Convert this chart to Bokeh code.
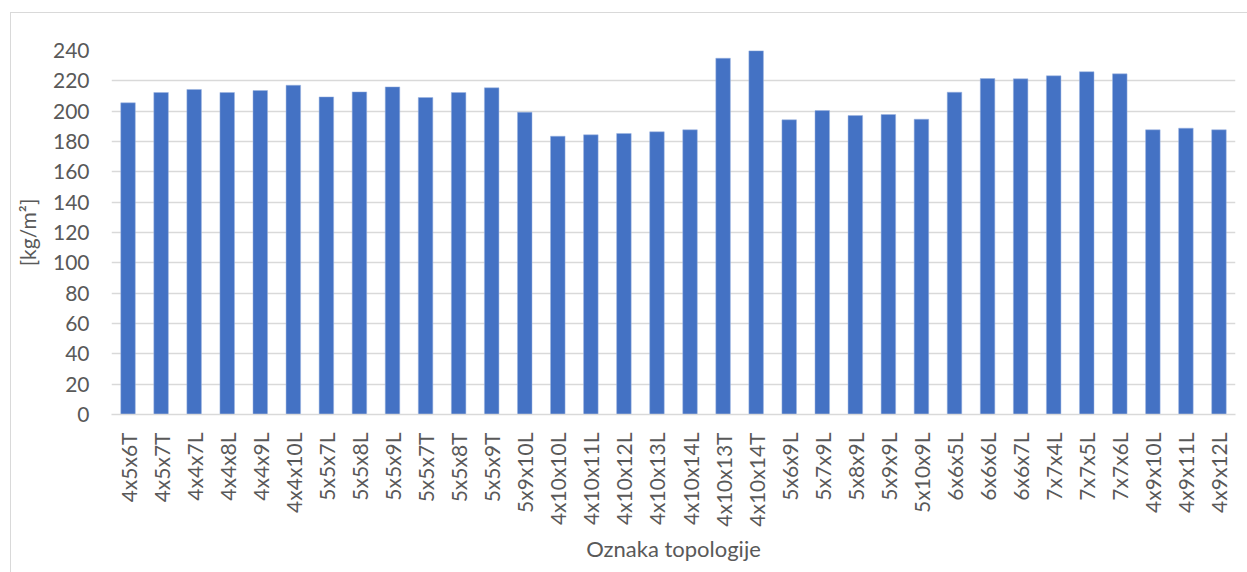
import math
from bokeh.plotting import figure
from bokeh.models import Range1d, FactorRange, SingleIntervalTicker
from bokeh.embed import file_html
from bokeh.resources import INLINE

categories = ["4x5x6T", "4x5x7T", "4x4x7L", "4x4x8L", "4x4x9L", "4x4x10L", "5x5x7L", "5x5x8L",
              "5x5x9L", "5x5x7T", "5x5x8T", "5x5x9T", "5x9x10L", "4x10x10L", "4x10x11L", "4x10x12L",
              "4x10x13L", "4x10x14L", "4x10x13T", "4x10x14T", "5x6x9L", "5x7x9L", "5x8x9L", "5x9x9L",
              "5x10x9L", "6x6x5L", "6x6x6L", "6x6x7L", "7x7x4L", "7x7x5L", "7x7x6L", "4x9x10L",
              "4x9x11L", "4x9x12L"]
values = [205.5, 212.3, 214.3, 212.3, 213.6, 217.1, 209.4, 212.7,
          216.0, 209.0, 212.3, 215.4, 199.3, 183.5, 184.4, 185.3,
          186.4, 187.7, 234.9, 239.8, 194.3, 200.4, 197.1, 197.8,
          194.7, 212.5, 221.5, 221.3, 223.3, 226.0, 224.6, 187.7,
          188.8, 187.7]

FONT = "Lato"
GREY = "#595959"

p = figure(width=1247, height=572, output_backend="svg", toolbar_location=None,
           x_range=FactorRange(*categories, range_padding=0.0), y_range=Range1d(0, 240),
           min_border_left=111, min_border_right=12, min_border_top=50, min_border_bottom=158)
p.x_range.factor_padding = 0.0
p.vbar(x=categories, top=values, width=0.44, color="#4472C4", line_color="#9db4e0", line_width=0.5)

p.border_fill_color = None
p.background_fill_color = None
p.outline_line_color = None
p.xgrid.grid_line_color = None
p.ygrid.grid_line_color = "#d9d9d9"
p.ygrid.grid_line_width = 1.5
p.yaxis.ticker = SingleIntervalTicker(interval=20)
p.yaxis.axis_line_color = None
p.yaxis.major_tick_line_color = None
p.yaxis.minor_tick_line_color = None
p.yaxis.major_tick_out = 0
p.yaxis.minor_tick_out = 0
p.yaxis.major_label_standoff = 22
p.yaxis.major_label_text_font = FONT
p.yaxis.major_label_text_font_size = "21px"
p.yaxis.major_label_text_color = GREY
p.yaxis.axis_label = "[kg/m²]"
p.yaxis.axis_label_text_font = FONT
p.yaxis.axis_label_text_font_size = "21px"
p.yaxis.axis_label_text_font_style = "normal"
p.yaxis.axis_label_text_color = GREY
p.yaxis.axis_label_standoff = 10

p.xaxis.axis_line_color = "#d9d9d9"
p.xaxis.axis_line_width = 1.5
p.xaxis.major_tick_line_color = None
p.xaxis.minor_tick_line_color = None
p.xaxis.major_tick_out = 0
p.xaxis.minor_tick_out = 0
p.xaxis.major_label_orientation = math.pi / 2
p.xaxis.major_label_text_font = FONT
p.xaxis.major_label_text_font_size = "21px"
p.xaxis.major_label_text_color = GREY
p.xaxis.major_label_standoff = 18
p.xaxis.axis_label = "Oznaka topologije"
p.xaxis.axis_label_text_font = FONT
p.xaxis.axis_label_text_font_size = "22px"
p.xaxis.axis_label_text_font_style = "normal"
p.xaxis.axis_label_text_color = GREY
p.xaxis.axis_label_standoff = 5

p.styles = {
    "background": "linear-gradient(#d9d9d9, #d9d9d9) 10px 12px / 1px 100% no-repeat, "
                  "linear-gradient(#d9d9d9, #d9d9d9) 10px 12px / 100% 1px no-repeat, white",
}

open("out.html", "w").write(file_html(p, INLINE))
